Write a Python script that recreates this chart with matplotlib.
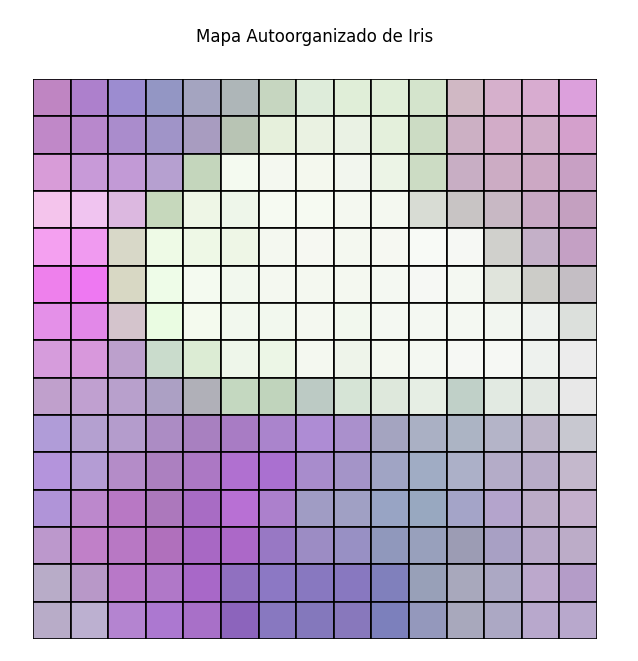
import matplotlib
matplotlib.use("Agg")
import matplotlib.pyplot as plt
from matplotlib.patches import Rectangle

# colores de cada neurona del mapa (fila 0 arriba)
row0 = ["#bf85c2", "#ad80cc", "#9c8cd0", "#9396c4", "#a4a4c0", "#aeb6b8", "#c6d6c0", "#deecda",
        "#e0eed8", "#e0eed8", "#d4e4cc", "#d0b8c4", "#d6b0cc", "#d8acd0", "#dca0dc"]
row1 = ["#c088c8", "#b888cc", "#aa8ccc", "#a094c8", "#a89cc0", "#b8c4b4", "#e6f0dc", "#eaf2e2",
        "#eaf2e4", "#e4f0dc", "#ccdcc4", "#ccb0c4", "#d2acc8", "#d0acc8", "#d4a0cc"]
row2 = ["#d89cd8", "#c89ad8", "#c29ad6", "#b6a0d0", "#c4d6bc", "#f4faf0", "#f4f8f0", "#f4f8ee",
        "#f2f6ee", "#ecf4e6", "#ccdcc4", "#c8aec4", "#ccacc4", "#cca8c4", "#c8a0c4"]
row3 = ["#f4c4ec", "#f0c4f0", "#dcb8e0", "#c6d8bc", "#eef6e6", "#eef6ea", "#f6faf2", "#f6faf2",
        "#f4f8f0", "#f4f8f0", "#d8dcd4", "#c8c4c4", "#c8b8c4", "#c8a8c4", "#c4a0c0"]
row4 = ["#f4a0f0", "#f09af0", "#d8d8c8", "#eefae6", "#eef8e6", "#eef6e6", "#f4f8f0", "#f6f8f2",
        "#f4f8f0", "#f6f8f2", "#f8faf6", "#f6f8f4", "#d0d0cc", "#c4b0c8", "#c4a0c4"]
row5 = ["#ee80ec", "#ee78f2", "#d8d8c4", "#eefce8", "#f4faf0", "#f2f8ee", "#f4f8f0", "#f4f8f0",
        "#f4f8f0", "#f4f8f2", "#f6f8f4", "#f4f8f2", "#e0e4dc", "#ccccc8", "#c4bec4"]
row6 = ["#e490e8", "#e288e8", "#d4c4cc", "#eafce2", "#f4faee", "#f2f8ee", "#f2f8ee", "#f4f8f0",
        "#f2f8ee", "#f4f8f2", "#f4f8f2", "#f4f8f2", "#f2f6f0", "#eef2ee", "#dce0dc"]
row7 = ["#d69cdc", "#d898dc", "#bca0cc", "#cadccc", "#dcecd4", "#eef6ea", "#ecf6e6", "#f4f8f0",
        "#eef4ea", "#f4f8f0", "#f4f8f2", "#f6f8f4", "#f6f8f4", "#eef2ee", "#ececec"]
row8 = ["#c0a0cc", "#c0a0d0", "#b8a0cc", "#aca0c4", "#b0b0b8", "#c4d8c0", "#c0d4bc", "#bccac4",
        "#d6e4d6", "#dee8dc", "#e6eee4", "#c0d0c8", "#e2eae2", "#e2e8e2", "#e8e8e8"]
row9 = ["#b09cd8", "#b4a0d0", "#b49ccc", "#ac8cc4", "#a880c0", "#a87cc4", "#aa84cc", "#ae8cd4",
        "#aa90cc", "#a4a4c0", "#aab0c4", "#acb4c4", "#b4b4c8", "#bcb4c8", "#c8c8d0"]
row10 = ["#b494dc", "#b49cd4", "#b48cc8", "#ac80c0", "#ac78c4", "#b070d0", "#aa70d0", "#a88ccc",
         "#a494c8", "#a0a4c4", "#a0acc4", "#acb0c8", "#b4acc8", "#b8acc8", "#c4b8cc"]
row11 = ["#b094d8", "#bc88cc", "#b878c4", "#ac78bc", "#a86cc4", "#b870d4", "#ac80cc", "#a09cc4",
         "#a0a0c4", "#98a4c4", "#98a8c0", "#a4a4c8", "#b4a4cc", "#bcacc8", "#c4b0cc"]
row12 = ["#bc98cc", "#c080c8", "#b878c4", "#b070bc", "#a868c4", "#ac68c8", "#9878c4", "#9c8cc4",
         "#9890c4", "#9098bc", "#98a0bc", "#9c9cb4", "#a8a0c4", "#b8a8c8", "#bcacc8"]
row13 = ["#b8acc8", "#b898c8", "#b878c8", "#b078c8", "#a868c8", "#9070c0", "#8c78c4", "#8878c0",
         "#8878c0", "#8080bc", "#98a0b8", "#a8a8bc", "#aca8c4", "#bca8cc", "#b49cc8"]
row14 = ["#b8acc8", "#bcb0d0", "#b484d0", "#ac78d0", "#a870c8", "#8c64bc", "#8878c0", "#8478bc",
         "#8878bc", "#7c80bc", "#9498bc", "#a8a8bc", "#aca8c4", "#b8a8cc", "#b8a8cc"]

grid = [row0, row1, row2, row3, row4, row5, row6, row7, row8, row9,
        row10, row11, row12, row13, row14]
n_rows = len(grid)
n_cols = len(grid[0])

fig = plt.figure(figsize=(6.38, 6.61), dpi=100)
ax = fig.add_axes([33 / 638, 22 / 661, 564 / 638, 560 / 661])

for i, fila in enumerate(grid):
    for j, c in enumerate(fila):
        ax.add_patch(Rectangle((j, i), 1, 1, facecolor=c, edgecolor="black", linewidth=1.2))

ax.set_xlim(0, n_cols)
ax.set_ylim(n_rows, 0)
ax.axis("off")

fig.text(315 / 638, 1 - 37 / 661, "Mapa Autoorganizado de Iris", ha="center", va="center", fontsize=12)

fig.savefig("out.png", dpi=100)
